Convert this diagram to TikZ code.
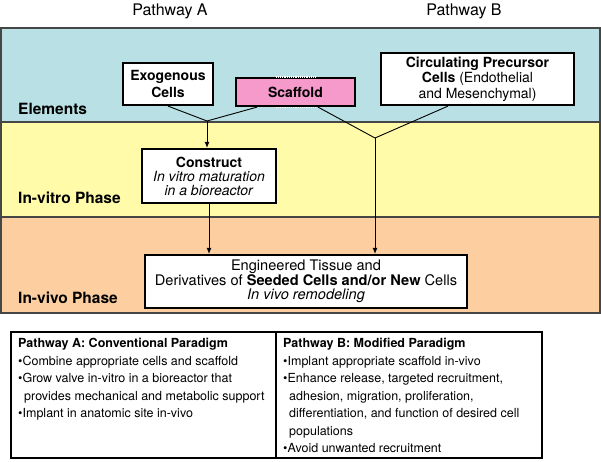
\documentclass[tikz,border=0pt]{standalone}
\usepackage{fontspec}
\setmainfont{TeX Gyre Heros}
\usetikzlibrary{arrows.meta,calc}
\definecolor{bandblue}{RGB}{185,224,228}
\definecolor{bandyellow}{RGB}{255,251,168}
\definecolor{bandorange}{RGB}{252,206,160}
\definecolor{scafpink}{RGB}{246,154,204}
\definecolor{bandline}{RGB}{70,70,70}
\tikzset{
  band/.style={draw=bandline, line width=1.2pt},
  bandlabel/.style={anchor=base west, inner sep=0pt, font=\fontsize{15.5}{18}\selectfont\bfseries},
  pathlabel/.style={anchor=base, inner sep=0pt, font=\fontsize{16}{18}\selectfont},
  elbox/.style={draw=black, line width=2.2pt, fill=white, align=center, inner sep=0pt},
  conn/.style={line width=0.9pt},
  arr/.style={line width=0.9pt, -{Latex[length=6pt,width=5pt]}},
  coltext/.style={anchor=north west, inner sep=0pt, align=left, font=\fontsize{12.5}{17.5}\selectfont}
}
\begin{document}
\begin{tikzpicture}[x=1pt,y=-1pt]
\useasboundingbox (0,0) rectangle (601,461);
% bands
\draw[band, fill=bandblue] (1,28) rectangle (600,122);
\draw[band, fill=bandyellow] (1,122) rectangle (600,217);
\draw[band, fill=bandorange] (1,217) rectangle (600,313);
% labels
\node[pathlabel] (pa) at (170,15) {Pathway A};
\node[pathlabel] (pb) at (464,15) {Pathway B};
\node[bandlabel] (lel) at (18,114) {Elements};
\node[bandlabel] (liv) at (18,203) {In-vitro Phase};
\node[bandlabel] (lvv) at (18,303) {In-vivo Phase};
% boxes
\node[elbox, minimum width=90pt, minimum height=42pt, font=\fontsize{14}{17.5}\selectfont\bfseries] (exo) at (168,84) {Exogenous\\Cells};
\node[elbox, fill=scafpink, minimum width=119pt, minimum height=28pt, font=\fontsize{14}{17}\selectfont\bfseries] (scaf) at (295.5,92) {Scaffold};
\draw[white, line width=1.2pt, densely dotted] ($(scaf.north)+(-20,0)$) -- ($(scaf.north)+(21,0)$);
\draw[white, line width=1.2pt, densely dotted] ($(scaf.south)+(-20,0)$) -- ($(scaf.south)+(21,0)$);
\node[elbox, minimum width=193pt, minimum height=52pt, font=\fontsize{14}{15.5}\selectfont] (circ) at (477.5,79) {\textbf{Circulating Precursor}\\\textbf{Cells} (Endothelial\\and Mesenchymal)};
\node[elbox, minimum width=134pt, minimum height=54pt, font=\fontsize{14}{14}\selectfont] (cons) at (209,176) {\textbf{Construct}\\\textit{In vitro maturation}\\\textit{in a bioreactor}};
\node[elbox, minimum width=322pt, minimum height=53pt, font=\fontsize{14.6}{14.5}\selectfont] (eng) at (306,281.5) {Engineered Tissue and\\Derivatives of \textbf{Seeded Cells and/or New} Cells\\\textit{In vivo remodeling}};
% connectors
\coordinate (j1) at (207,121);
\coordinate (j2) at (375,138);
\draw[conn] (exo.south) -- (j1);
\draw[conn] ([xshift=-38.5pt]scaf.south) -- (j1);
\draw[arr] (j1) -- (j1 |- cons.north);
\draw[conn] ([xshift=22.5pt]scaf.south) -- (j2);
\draw[conn] ([xshift=-29.5pt]circ.south) -- (j2);
\draw[arr] (j2) -- (j2 |- eng.north);
\draw[arr] (cons.south) -- (cons.south |- eng.north);
% table
\node[draw=black, line width=2pt, minimum width=531pt, minimum height=126pt, inner sep=0pt] (tab) at (276.5,395) {};
\draw[line width=1.5pt] ($(tab.north west)+(266,0)$) -- ($(tab.south west)+(266,0)$);
\node[coltext] (cola) at (18,338) {\textbf{Pathway A: Conventional Paradigm}\\
•Combine appropriate cells and scaffold\\
•Grow valve in-vitro in a bioreactor that\\
\hspace*{6pt}provides mechanical and metabolic support\\
•Implant in anatomic site in-vivo};
\node[coltext] (colb) at (283,338) {\textbf{Pathway B: Modified Paradigm}\\
•Implant appropriate scaffold in-vivo\\
•Enhance release, targeted recruitment,\\
\hspace*{6pt}adhesion, migration, proliferation,\\
\hspace*{6pt}differentiation, and function of desired cell\\
\hspace*{6pt}populations\\
•Avoid unwanted recruitment};
\end{tikzpicture}
\end{document}
